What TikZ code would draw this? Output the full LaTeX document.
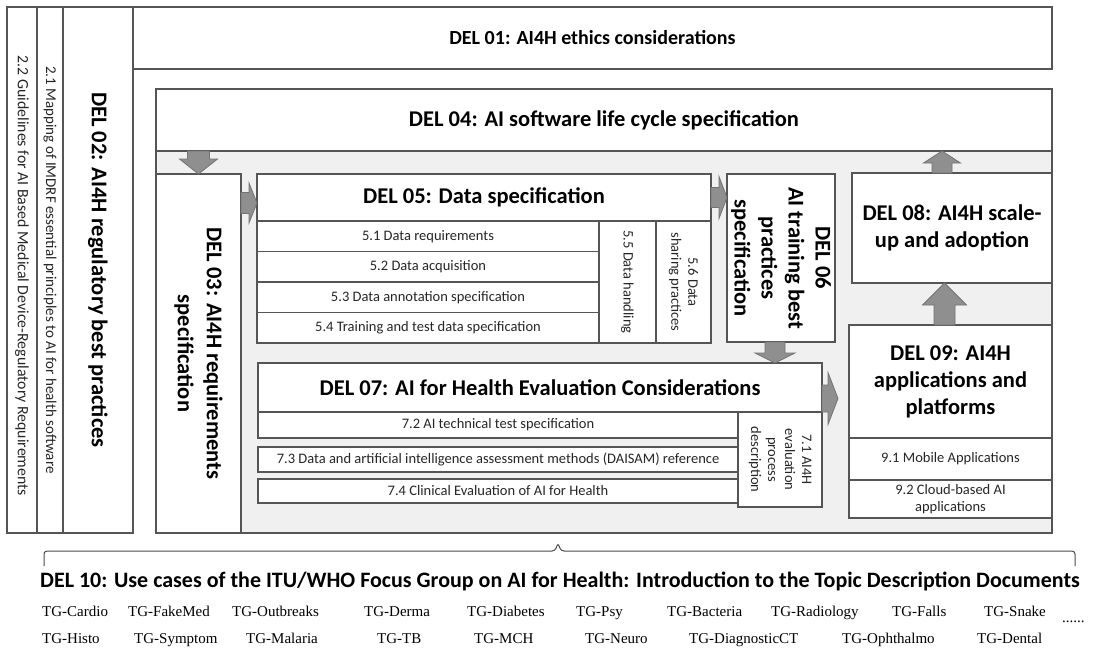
\documentclass[tikz,border=0pt]{standalone}
\usepackage{fontspec}
\setmainfont{Carlito}
\newfontfamily\tgfont{Liberation Serif}
\usetikzlibrary{calc}
\definecolor{stagegrey}{HTML}{F0F0F0}
\definecolor{arrowgrey}{HTML}{8F8F8F}
\definecolor{boxline}{HTML}{555555}
\newcommand{\blockarrow}[5]{%
  \coordinate (headbase) at ($(#2)!#5!(#1)$);
  \filldraw[bigarrow] ($(#1)!#3!90:(#2)$) -- ($(headbase)!#3!90:(#2)$) -- ($(headbase)!#4!90:(#2)$) -- (#2)
    -- ($(headbase)!#4!-90:(#2)$) -- ($(headbase)!#3!-90:(#2)$) -- ($(#1)!#3!-90:(#2)$) -- cycle;%
}
\tikzset{
  box/.style={draw=boxline, line width=1.3pt, fill=white, inner sep=0pt, outer sep=0pt},
  deltitle/.style={font=\fontsize{22.5}{27}\selectfont\bfseries, align=center},
  subitem/.style={font=\fontsize{14.5}{17}\selectfont, align=center, text=black!85},
  bigarrow/.style={fill=arrowgrey, draw=black!55, line width=0.8pt},
  tgname/.style={font=\tgfont\fontsize{15}{18}\selectfont, anchor=base west, inner sep=0pt},
  bracket/.style={draw=black!70, line width=1pt, rounded corners=3pt}
}

\begin{document}
\begin{tikzpicture}[x=1pt, y=-1pt]
\useasboundingbox (0,0) rectangle (1101,649);

\node[box, minimum width=30pt, minimum height=526pt] (req22) at (22,270) {};
\node[subitem, font=\fontsize{15.8}{17}\selectfont, rotate=-90] (req22txt) at ([yshift=-6pt]req22) {2.2 Guidelines for AI Based Medical Device-Regulatory Requirements};
\node[box, minimum width=26pt, minimum height=526pt] (imdrf21) at (50,270) {};
\node[subitem, font=\fontsize{15}{17}\selectfont, rotate=-90] (imdrf21txt) at (imdrf21) {2.1 Mapping of IMDRF essential principles to AI for health software};
\node[box, minimum width=70pt, minimum height=526pt] (del02) at (98,270) {};
\node[deltitle, rotate=-90] (del02txt) at (del02) {DEL 02: AI4H regulatory best practices};

\node[box, deltitle, font=\fontsize{20}{24}\selectfont\bfseries, minimum width=919pt, minimum height=62pt] (del01) at (592.5,38) {DEL 01: AI4H ethics considerations};
\node[box, deltitle, minimum width=896pt, minimum height=62pt] (del04) at (604,120) {DEL 04: AI software life cycle specification};
\node[box, fill=stagegrey, minimum width=896pt, minimum height=382pt] (stage) at (604,342) {};

\node[box, minimum width=85pt, minimum height=359pt] (del03) at (198.5,353.5) {};
\node[deltitle, font=\fontsize{22.5}{29}\selectfont\bfseries, rotate=-90] (del03txt) at (del03) {DEL 03: AI4H requirements\\specification};

\node[box, deltitle, minimum width=454pt, minimum height=47pt] (del05) at (484,197.5) {DEL 05: Data specification};
\node[box, subitem, minimum width=342pt, minimum height=30.5pt] (data51) at (428,236.25) {5.1 Data requirements};
\node[box, subitem, minimum width=342pt, minimum height=30.5pt] (data52) at (428,266.75) {5.2 Data acquisition};
\node[box, subitem, minimum width=342pt, minimum height=30.5pt] (data53) at (428,297.25) {5.3 Data annotation specification};
\node[box, subitem, minimum width=342pt, minimum height=30.5pt] (data54) at (428,327.75) {5.4 Training and test data specification};
\node[box, minimum width=57pt, minimum height=122pt] (data55) at (627.5,282) {};
\node[subitem, rotate=-90] (data55txt) at (data55) {5.5 Data handling};
\node[box, minimum width=55pt, minimum height=122pt] (data56) at (683.5,282) {};
\node[subitem, rotate=-90] (data56txt) at (data56) {5.6 Data\\sharing practices};

\node[box, minimum width=108pt, minimum height=168pt] (del06) at (781,258) {};
\node[deltitle, rotate=-90] (del06txt) at (del06) {DEL 06\\AI training best\\practices\\specification};

\node[box, deltitle, minimum width=564pt, minimum height=49pt] (del07) at (540,387.5) {DEL 07: AI for Health Evaluation Considerations};
\node[box, subitem, minimum width=480pt, minimum height=26pt] (eval72) at (498,425) {7.2 AI technical test specification};
\node[box, subitem, minimum width=480pt, minimum height=25pt] (eval73) at (498,459.5) {7.3 Data and artificial intelligence assessment methods (DAISAM) reference};
\node[box, subitem, minimum width=480pt, minimum height=24pt] (eval74) at (498,491) {7.4 Clinical Evaluation of AI for Health};
\node[box, minimum width=84pt, minimum height=95pt] (eval71) at (780,459.5) {};
\node[subitem, rotate=-90] (eval71txt) at (eval71) {7.1 AI4H\\evaluation\\process\\description};

\node[box, deltitle, minimum width=200pt, minimum height=110pt] (del08) at (952,228) {DEL 08: AI4H scale-\\up and adoption};
\node[box, deltitle, minimum width=203pt, minimum height=113pt] (del09) at (950.5,381.5) {DEL 09: AI4H\\applications and\\platforms};
\node[box, subitem, minimum width=203pt, minimum height=42pt] (apps91) at (950.5,459) {9.1 Mobile Applications};
\node[box, subitem, minimum width=203pt, minimum height=38pt] (apps92) at (950.5,499) {9.2 Cloud-based AI\\applications};

\coordinate (feed05) at ([yshift=-5.5pt]del05.west);
\blockarrow{del03.north |- del04.south}{del03.north}{11pt}{19pt}{15pt}
\blockarrow{del03.east |- feed05}{feed05}{10.5pt}{20pt}{8pt}
\blockarrow{del05.east}{del06.west |- del05.east}{10pt}{21pt}{8pt}
\blockarrow{[xshift=-6pt]del06.south}{[xshift=-6pt]del06.south |- del07.north}{10pt}{20pt}{10pt}
\blockarrow{[yshift=-11pt]del07.east}{[xshift=16pt, yshift=-11pt]del07.east}{13.5pt}{26pt}{10pt}
\blockarrow{[xshift=-6pt]del09.north}{[xshift=-6pt]del09.north |- del08.south}{10.5pt}{22pt}{22pt}
\blockarrow{[xshift=-10pt]del08.north}{[xshift=-10pt]del08.north |- del04.south}{10pt}{18.5pt}{12pt}

\draw[bracket] (44,566) -- (44,551) -- (555,551) -- (558,543) -- (561,551) -- (1075,551) -- (1075,566);
\node[font=\fontsize{22}{24}\selectfont\bfseries] (del10) at (560,581) {DEL 10: Use cases of the ITU/WHO Focus Group on AI for Health: Introduction to the Topic Description Documents};

\node[tgname] (tgcardio) at (42,616) {TG-Cardio};
\node[tgname] (tgfakemed) at (128,616) {TG-FakeMed};
\node[tgname] (tgoutbreaks) at (232,616) {TG-Outbreaks};
\node[tgname] (tgderma) at (364,616) {TG-Derma};
\node[tgname] (tgdiabetes) at (467,616) {TG-Diabetes};
\node[tgname] (tgpsy) at (576,616) {TG-Psy};
\node[tgname] (tgbacteria) at (667,616) {TG-Bacteria};
\node[tgname] (tgradiology) at (771,616) {TG-Radiology};
\node[tgname] (tgfalls) at (892,616) {TG-Falls};
\node[tgname] (tgsnake) at (984,616) {TG-Snake};
\node[tgname] (tgmore) at (1062,622) {......};
\node[tgname] (tghisto) at (42,643) {TG-Histo};
\node[tgname] (tgsymptom) at (134,643) {TG-Symptom};
\node[tgname] (tgmalaria) at (246,643) {TG-Malaria};
\node[tgname] (tgtb) at (377,643) {TG-TB};
\node[tgname] (tgmch) at (474,643) {TG-MCH};
\node[tgname] (tgneuro) at (585,643) {TG-Neuro};
\node[tgname] (tgdiagct) at (689,643) {TG-DiagnosticCT};
\node[tgname] (tgophthalmo) at (842,643) {TG-Ophthalmo};
\node[tgname] (tgdental) at (977,643) {TG-Dental};
\end{tikzpicture}
\end{document}
